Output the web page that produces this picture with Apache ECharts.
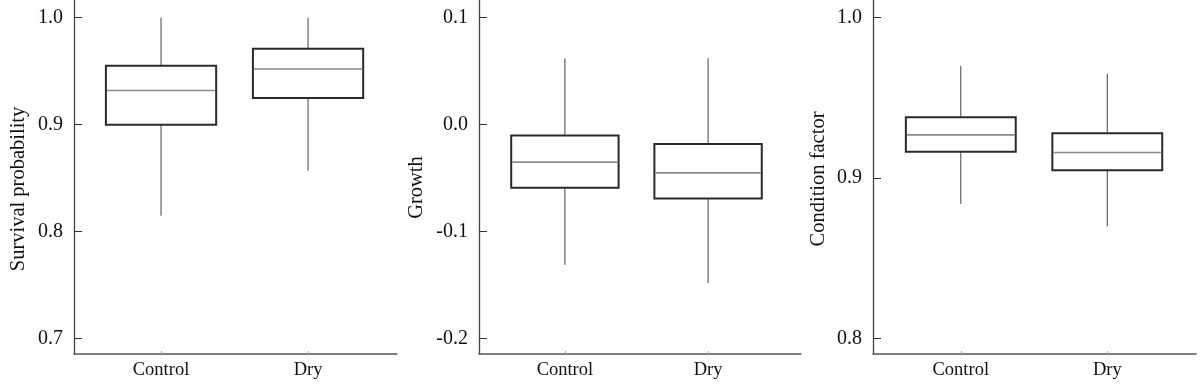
<!DOCTYPE html>
<html>
<head>
<meta charset="utf-8">
<script src="https://cdn.jsdelivr.net/npm/echarts@6/dist/echarts.min.js"></script>
<style>
html,body{margin:0;padding:0;background:#fff;}
#chart{width:1200px;height:386px;}
</style>
</head>
<body>
<div id="chart"></div>
<script>
// Categories
const categories = ['Control', 'Dry'];
// Box statistics: [lower whisker, Q1, median, Q3, upper whisker]
const survivalControl = [0.815, 0.900, 0.932, 0.955, 1.000];
const survivalDry = [0.857, 0.925, 0.952, 0.971, 1.000];
const growthControl = [-0.131, -0.059, -0.035, -0.010, 0.062];
const growthDry = [-0.148, -0.069, -0.045, -0.018, 0.062];
const conditionControl = [0.884, 0.9165, 0.927, 0.938, 0.970];
const conditionDry = [0.870, 0.905, 0.916, 0.928, 0.965];
// Tick labels
const survivalTicks = [0.7, 0.8, 0.9, 1.0];
const growthTicks = [-0.2, -0.1, 0.0, 0.1];
const conditionTicks = [0.8, 0.9, 1.0];
// Axis titles
const yNames = ['Survival probability', 'Growth', 'Condition factor'];

const FONT = "'Liberation Serif', 'Times New Roman', serif";

function renderBox(params, api) {
  const x = api.value(0);
  const lo = api.coord([x, api.value(1)]);
  const q1 = api.coord([x, api.value(2)]);
  const med = api.coord([x, api.value(3)]);
  const q3 = api.coord([x, api.value(4)]);
  const hi = api.coord([x, api.value(5)]);
  const w = api.size([0.75, 0])[0];
  const cx = lo[0];
  const h = w / 2;
  return {
    type: 'group',
    children: [
      { type: 'line', shape: { x1: cx, y1: hi[1], x2: cx, y2: q3[1] }, style: { stroke: '#444', lineWidth: 1 } },
      { type: 'line', shape: { x1: cx, y1: q1[1], x2: cx, y2: lo[1] }, style: { stroke: '#444', lineWidth: 1 } },
      { type: 'rect', shape: { x: cx - h, y: q3[1], width: w, height: q1[1] - q3[1] }, style: { fill: '#fff', stroke: '#2a2a2a', lineWidth: 2 } },
      { type: 'line', shape: { x1: cx - h + 1, y1: med[1], x2: cx + h - 1, y2: med[1] }, style: { stroke: '#8a8a8a', lineWidth: 1.6 } }
    ]
  };
}

function toRows(a, b) {
  return [[1].concat(a), [2].concat(b)];
}

const grids = [
  { left: 74, top: 0, width: 323, height: 354 },
  { left: 479, top: 0, width: 322, height: 354 },
  { left: 873, top: 0, width: 323, height: 354 }
];
const xRanges = [[0.408, 2.605], [0.400, 2.649], [0.4007, 2.6055]];
const yRanges = [[0.6857, 1.01654], [-0.2143, 0.11654], [0.79047, 1.01103]];
const yTicks = [survivalTicks, growthTicks, conditionTicks];
const nameGaps = [45, 52, 44];
const namePads = [[0, 24, 0, 0], [0, 21, 0, 0], [0, 4, 0, 0]];
const seriesData = [
  toRows(survivalControl, survivalDry),
  toRows(growthControl, growthDry),
  toRows(conditionControl, conditionDry)
];

const option = {
  animation: false,
  backgroundColor: '#fff',
  grid: grids,
  xAxis: grids.map((g, i) => ({
    type: 'value',
    gridIndex: i,
    min: xRanges[i][0],
    max: xRanges[i][1],
    splitLine: { show: false },
    axisLine: { show: true, onZero: false, lineStyle: { color: '#555', width: 1.5 } },
    axisTick: { show: true, inside: true, length: 3, customValues: [1, 2], lineStyle: { color: '#aaa', width: 1 } },
    axisLabel: {
      customValues: [1, 2],
      formatter: v => categories[Math.round(v) - 1] || '',
      fontFamily: FONT, fontSize: 18.5, color: '#111', margin: 7
    }
  })),
  yAxis: grids.map((g, i) => ({
    type: 'value',
    gridIndex: i,
    min: yRanges[i][0],
    max: yRanges[i][1],
    name: yNames[i],
    nameLocation: 'middle',
    nameGap: nameGaps[i],
    nameTextStyle: { fontFamily: FONT, fontSize: 20.5, color: '#111', padding: namePads[i] },
    splitLine: { show: false },
    axisLine: { show: true, onZero: false, lineStyle: { color: '#444', width: 1.3 } },
    axisTick: { show: true, inside: true, length: 8, customValues: yTicks[i], lineStyle: { color: '#333', width: 1 } },
    axisLabel: {
      customValues: yTicks[i],
      formatter: v => v.toFixed(1),
      fontFamily: FONT, fontSize: 20, color: '#111', margin: 11
    }
  })),
  series: seriesData.map((d, i) => ({
    type: 'custom',
    xAxisIndex: i,
    yAxisIndex: i,
    renderItem: renderBox,
    encode: { x: 0, y: [1, 2, 3, 4, 5] },
    silent: true,
    data: d
  }))
};

const chart = echarts.init(document.getElementById('chart'), null, { renderer: 'canvas' });
chart.setOption(option);
</script>
</body>
</html>
